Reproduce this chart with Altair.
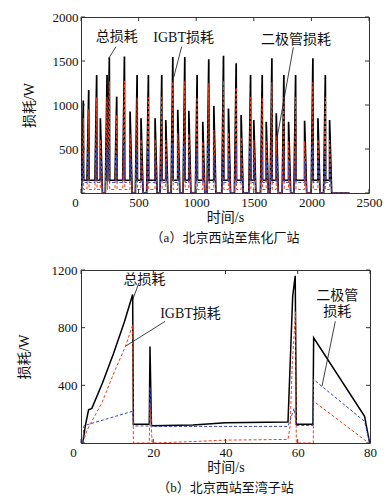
import altair as alt
import pandas as pd

FONT = "Liberation Serif, Noto Sans CJK SC"
BLACK, RED, BLUE = "#000000", "#f0401e", "#3548c0"

# ---------------- panel (a): 北京西站至焦化厂站 ----------------
a_time = [20, 67, 136, 168, 226, 246, 310, 377, 426, 487, 521, 585, 643, 701, 736,
          797, 840, 901, 936, 1008, 1057, 1109, 1153, 1237, 1280, 1347, 1390, 1472,
          1500, 1573, 1608, 1657, 1695, 1761, 1802, 1863, 1941, 2013, 2057, 2121, 2158]
# T = traction spike (then cruise), B = braking spike (then stop)
a_kind = ["T", "T", "T", "B", "T", "T", "T", "T", "B", "T", "B", "T", "B", "T", "B",
          "T", "B", "T", "B", "T", "B", "T", "B", "T", "B", "T", "B", "T",
          "B", "T", "B", "T", "B", "T", "B", "T", "B", "T", "B", "T", "B"]
a_total = [1050, 1170, 1340, 850, 1340, 1540, 1095, 1550, 925, 1340, 850, 1340, 850, 1340, 830,
           1545, 945, 1545, 935, 1340, 810, 1520, 990, 1560, 960, 1475, 885, 1340,
           830, 1340, 810, 1530, 905, 1340, 810, 1340, 820, 1530, 850, 1340, 830]
a_igbt = [850, 950, 1085, 610, 1085, 1265, 890, 1270, 665, 1085, 610, 1085, 610, 1085, 600,
          1265, 680, 1265, 675, 1085, 585, 1245, 715, 1275, 690, 1200, 640, 1085,
          600, 1085, 585, 1255, 650, 1085, 585, 1085, 590, 1255, 610, 1085, 600]
a_diode = [420, 450, 510, 380, 500, 560, 430, 560, 400, 510, 380, 510, 380, 500, 370,
           560, 410, 560, 410, 510, 360, 550, 430, 560, 420, 540, 390, 510,
           370, 510, 360, 555, 400, 510, 360, 510, 365, 555, 380, 510, 370]
a_cruise = [145, 40, 120]          # total, IGBT, diode level while cruising
a_end = 2330
a_xticks = [0, 500, 1000, 1500, 2000, 2500]
a_yticks = [0, 500, 1000, 1500, 2000]
a_ylabels = [500, 1000, 1500, 2000]
a_notes = ["总损耗", "IGBT损耗", "二极管损耗"]
a_note_x = [310, 891, 1866]
a_note_y = [1776, 1758, 1739]
a_ptr = [(304, 1663, 240, 1530), (874, 1663, 805, 1315), (1843, 1656, 1699, 602)]

# ---------------- panel (b): 北京西站至湾子站 ----------------
b_total_t = [0.5, 1.2, 2.1, 3.0, 6.0, 9.0, 12.0, 14.3, 14.5, 18.9, 19.1, 19.5, 31.0, 40.0,
             57.3, 58.6, 59.3, 59.6, 64.2, 64.4, 78.5, 79.9]
b_total = [0, 120, 230, 240, 420, 620, 840, 1030, 130, 130, 670, 120, 125, 140,
           145, 1020, 1160, 130, 130, 730, 185, 0]
b_igbt_t = [0.5, 1.7, 3.0, 5.8, 9.5, 12.3, 14.3, 14.5, 18.9, 19.1, 19.7, 31.0, 40.0,
            57.3, 57.9, 58.5, 59.4, 59.6, 64.3, 64.4, 79.6]
b_igbt = [0, 90, 150, 280, 510, 670, 820, 0, 0, 280, 0, 10, 20,
          25, 120, 560, 910, 0, 0, 290, 0]
b_diode_t = [0.5, 0.8, 14.3, 14.5, 18.9, 19.1, 19.6, 57.3, 59.0, 59.6, 64.2, 64.4, 78.5, 79.9]
b_diode = [0, 120, 220, 118, 118, 390, 115, 115, 240, 122, 122, 440, 150, 0]
b_xticks = [0, 20, 40, 60, 80]
b_yticks = [0, 400, 800, 1200]
b_ylabels = [400, 800, 1200]
b_notes = ["总损耗", "IGBT损耗", "二极管", "损耗"]
b_note_x = [17.6, 30.3, 70.9, 70.9]
b_note_y = [1133, 897, 1022, 906]
b_ptr = [(16.0, 1110, 14.2, 985), (23.3, 844, 12.3, 671), (70.4, 844, 66.7, 393)]


def build_a(peaks, cruise):
    ts, vs, level = [0], [0], 0
    for t, k, p in zip(a_time, a_kind, peaks):
        if k == "T":
            ts += [t - 15, t, t + 3]
            vs += [level, p, cruise]
            level = cruise
        else:
            ts += [t - 0.5, t, t + 18]
            vs += [level, p, 0]
            level = 0
    ts.append(a_end)
    vs.append(0)
    return pd.DataFrame({"t": ts, "v": vs})


def panel(series, xdom, ydom, xticks, yticks, ylabels, W, H, notes, nx, ny, ptrs,
          caption, zero_off, lpad, tpad):
    xs = alt.Scale(domain=xdom, nice=False, zero=False)
    ys = alt.Scale(domain=ydom, nice=False)
    xax = alt.Axis(values=xticks, title="时间/s", tickSize=0, grid=False, domain=False,
                   format="d", labelFlush=False, labelPadding=3, titlePadding=1,
                   labelOffset={"condition": {"test": "datum.value == 0", "value": zero_off}, "value": 0})
    yax = alt.Axis(values=ylabels, title="损耗/W", tickSize=0, grid=False, domain=False,
                   format="d", labelFlush=False, labelPadding=lpad, titlePadding=tpad)

    def X(f):
        return alt.X(f, type="quantitative", scale=xs, axis=xax)

    def Y(f):
        return alt.Y(f, type="quantitative", scale=ys, axis=yax)

    layers = []
    for df, color, sw, dash in series:
        m = alt.Chart(df).mark_line(color=color, strokeWidth=sw, clip=True,
                                    **({"strokeDash": dash} if dash else {}))
        layers.append(m.encode(x=X("t"), y=Y("v")))

    tx = pd.DataFrame({"v": xticks})
    ty = pd.DataFrame({"v": yticks})
    tc = "#333333"
    layers += [
        alt.Chart(tx).mark_rule(color=tc, strokeWidth=1).encode(x=X("v"), y=alt.value(0), y2=alt.value(4)),
        alt.Chart(tx).mark_rule(color=tc, strokeWidth=1).encode(x=X("v"), y=alt.value(H), y2=alt.value(H - 4)),
        alt.Chart(ty).mark_rule(color=tc, strokeWidth=1).encode(y=Y("v"), x=alt.value(0), x2=alt.value(4)),
        alt.Chart(ty).mark_rule(color=tc, strokeWidth=1).encode(y=Y("v"), x=alt.value(W), x2=alt.value(W - 4)),
    ]

    pdf = pd.DataFrame(ptrs, columns=["x1", "y1", "x2", "y2"])
    layers.append(alt.Chart(pdf).mark_rule(color="#111111", strokeWidth=0.8).encode(
        x=X("x1"), y=Y("y1"), x2="x2", y2="y2"))
    ndf = pd.DataFrame({"x": nx, "y": ny, "s": notes})
    layers.append(alt.Chart(ndf).mark_text(font=FONT, fontSize=14, color="#111111").encode(
        x=X("x"), y=Y("y"), text="s"))

    return alt.layer(*layers).properties(
        width=W, height=H,
        title=alt.TitleParams(text=caption, orient="bottom", font=FONT, fontSize=13,
                              fontWeight="normal", color="#111111", offset=8))


sa = [
    (build_a(a_total, a_cruise[0]), BLACK, 1.7, None),
    (build_a(a_igbt, a_cruise[1]), RED, 1.0, [3, 2]),
    (build_a(a_diode, a_cruise[2]), BLUE, 1.0, [3, 2]),
]
sb = [
    (pd.DataFrame({"t": b_total_t, "v": b_total}), BLACK, 1.5, None),
    (pd.DataFrame({"t": b_igbt_t, "v": b_igbt}), RED, 1.0, [3, 2]),
    (pd.DataFrame({"t": b_diode_t, "v": b_diode}), BLUE, 1.0, [3, 2]),
]

top = panel(sa, [0, 2500], [0, 2000], a_xticks, a_yticks, a_ylabels, 288, 176,
            a_notes, a_note_x, a_note_y, a_ptr, "（a）北京西站至焦化厂站", -6, 3, 16)
bottom = panel(sb, [0, 80], [0, 1200], b_xticks, b_yticks, b_ylabels, 289, 173,
               b_notes, b_note_x, b_note_y, b_ptr, "（b）北京西站至湾子站", -8, 4, 20)

chart = alt.concat(top, bottom, columns=1, spacing=17, align="none").configure(
    padding={"left": 8, "top": 2, "right": 0, "bottom": 0},
    font=FONT,
).configure_view(stroke="#333333", strokeWidth=1).configure_axis(
    labelFont=FONT, labelFontSize=13, labelColor="#111111",
    titleFont=FONT, titleFontSize=14, titleFontWeight="normal", titleColor="#111111",
)

chart.save("out.html", embed_options={"renderer": "svg", "actions": False})
